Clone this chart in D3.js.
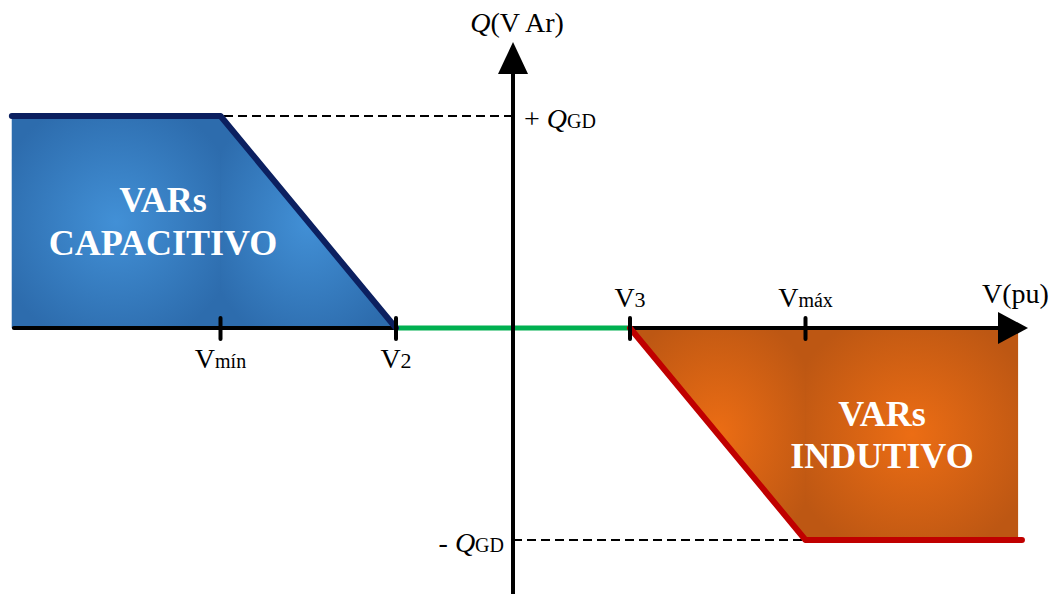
<!DOCTYPE html>
<html lang="pt">
<head>
<meta charset="UTF-8">
<title>Curva Volt-VAr</title>
<script src="https://cdn.jsdelivr.net/npm/d3@7"></script>
<style>
  body { margin: 0; background: #fff; }
  svg text { font-family: "Liberation Serif", "Times New Roman", serif; fill: #000; }
  .regiao { font-weight: bold; font-size: 36px; fill: #fff !important; text-anchor: middle; }
</style>
</head>
<body>
<div id="grafico"></div>
<script>
// tensoes (pu) e potencia reativa (em unidades de QGD)
var vLimites = [0.8715, 1.1295];      // borda esquerda / direita das areas
var vTicks = [0.925, 0.97, 1.03, 1.075];
var tickNomes = ["mín", "2", "3", "máx"];
var curvaCapacitiva = [[0.8715, 1], [0.925, 1], [0.97, 0]];
var curvaIndutiva = [[1.03, 0], [1.075, -1], [1.1305, -1]];
var faixaMorta = [[0.97, 0], [1.03, 0]];
var qNiveis = [1, -1];
var qNomes = ["+ ", "- "];
var textoCap = ["VARs", "CAPACITIVO"];
var textoInd = ["VARs", "INDUTIVO"];

var w = 1056, h = 594;
var x = d3.scaleLinear().domain([0.9, 1.1]).range([123, 903]);
var y = d3.scaleLinear().domain([-1, 1]).range([540, 116]);
var x0 = x(1.0), y0 = y(0);

var svg = d3.select("#grafico").append("svg").attr("width", w).attr("height", h);
var defs = svg.append("defs");

function radial(id, centro, borda) {
  var g = defs.append("radialGradient").attr("id", id).attr("cx", "50%").attr("cy", "50%").attr("r", "60%");
  g.append("stop").attr("offset", "0%").attr("stop-color", centro);
  g.append("stop").attr("offset", "100%").attr("stop-color", borda);
}
radial("azul", "#4290d6", "#2d6cad");
radial("laranja", "#ec6d14", "#bd5713");

var linha = d3.line().x(function(d){ return x(d[0]); }).y(function(d){ return y(d[1]); });

// fundo de cada area (cor da borda) para nao aparecer emenda
svg.append("path").attr("fill", "#2d6cad")
  .attr("d", linha([[vLimites[0], 0]].concat(curvaCapacitiva)));
svg.append("path").attr("fill", "#bd5713")
  .attr("d", linha(curvaIndutiva.slice(0, 2).concat([[vLimites[1], -1], [vLimites[1], 0]])));

// areas preenchidas (retangulo + triangulo cada uma)
svg.append("path").attr("fill", "url(#azul)")
  .attr("d", linha([[vLimites[0], 0], [vLimites[0], 1], [vTicks[0], 1], [vTicks[0], 0]]));
svg.append("path").attr("fill", "url(#azul)")
  .attr("d", linha([[vTicks[0], 0], [vTicks[0], 1], [vTicks[1], 0]]));
svg.append("path").attr("fill", "url(#laranja)")
  .attr("d", linha([[vTicks[2], 0], [vTicks[3], -1], [vTicks[3], 0]]));
svg.append("path").attr("fill", "url(#laranja)")
  .attr("d", linha([[vTicks[3], 0], [vTicks[3], -1], [vLimites[1], -1], [vLimites[1], 0]]));

// linhas tracejadas
qNiveis.forEach(function(q, i){
  var xv = i === 0 ? x(vTicks[0]) : x(vTicks[3]);
  svg.append("line").attr("x1", x0).attr("x2", xv).attr("y1", y(q)).attr("y2", y(q))
    .attr("stroke", "#000").attr("stroke-width", 2).attr("stroke-dasharray", "9,5");
});

// eixo V
svg.append("line").attr("x1", x(vLimites[0]) + 2).attr("x2", x(vTicks[1])).attr("y1", y0).attr("y2", y0)
  .attr("stroke", "#000").attr("stroke-width", 4).attr("stroke-linecap", "round");
svg.append("line").attr("x1", x(vTicks[2])).attr("x2", 1004).attr("y1", y0).attr("y2", y0)
  .attr("stroke", "#000").attr("stroke-width", 4);
svg.append("path").attr("d", "M1028," + y0 + "L998," + (y0 - 16) + "L998," + (y0 + 16) + "Z").attr("fill", "#000");

// faixa morta (verde)
svg.append("path").attr("d", linha(faixaMorta)).attr("stroke", "#00b050").attr("stroke-width", 5).attr("fill", "none");

// eixo Q
svg.append("line").attr("x1", x0).attr("x2", x0).attr("y1", 594).attr("y2", 70)
  .attr("stroke", "#000").attr("stroke-width", 4);
svg.append("path").attr("d", "M" + x0 + ",42L" + (x0 - 15) + ",74L" + (x0 + 15) + ",74Z").attr("fill", "#000");

// curvas
svg.append("path").attr("d", linha(curvaCapacitiva)).attr("stroke", "#0c2060").attr("stroke-width", 6)
  .attr("fill", "none").attr("stroke-linecap", "round").attr("stroke-linejoin", "round");
svg.append("path").attr("d", linha(curvaIndutiva)).attr("stroke", "#c00000").attr("stroke-width", 6)
  .attr("fill", "none").attr("stroke-linecap", "round").attr("stroke-linejoin", "round");

// ticks e rotulos
vTicks.forEach(function(v, i){
  svg.append("line").attr("x1", x(v)).attr("x2", x(v)).attr("y1", y0 - 10).attr("y2", y0 + 11)
    .attr("stroke", "#000").attr("stroke-width", 4).attr("stroke-linecap", "round");
  var t = svg.append("text").attr("x", x(v)).attr("y", i < 2 ? 368 : 307).attr("text-anchor", "middle");
  t.append("tspan").attr("font-size", 28).text("V");
  t.append("tspan").attr("font-size", /\d/.test(tickNomes[i]) ? 22 : 20).text(tickNomes[i]);
});

var vpu = svg.append("text").attr("x", 982).attr("y", 303).attr("font-size", 28).text("V(pu)");

var qt = svg.append("text").attr("x", x0 + 4).attr("y", 32).attr("text-anchor", "middle").attr("font-size", 28);
qt.append("tspan").attr("font-style", "italic").text("Q");
qt.append("tspan").text("(V Ar)");

qNiveis.forEach(function(q, i){
  var t = svg.append("text").attr("y", y(q) + 12)
    .attr("x", i === 0 ? x0 + 11 : x0 - 9).attr("text-anchor", i === 0 ? "start" : "end");
  t.append("tspan").attr("font-size", 28).text(qNomes[i]);
  t.append("tspan").attr("font-size", 28).attr("font-style", "italic").text("Q");
  t.append("tspan").attr("font-size", 20).text("GD");
});

// textos das regioes
textoCap.forEach(function(s, i){
  svg.append("text").attr("class", "regiao").attr("x", 163).attr("y", 212 + i * 43).text(s);
});
textoInd.forEach(function(s, i){
  svg.append("text").attr("class", "regiao").attr("x", 882).attr("y", 426 + i * 42).text(s);
});
</script>
</body>
</html>
